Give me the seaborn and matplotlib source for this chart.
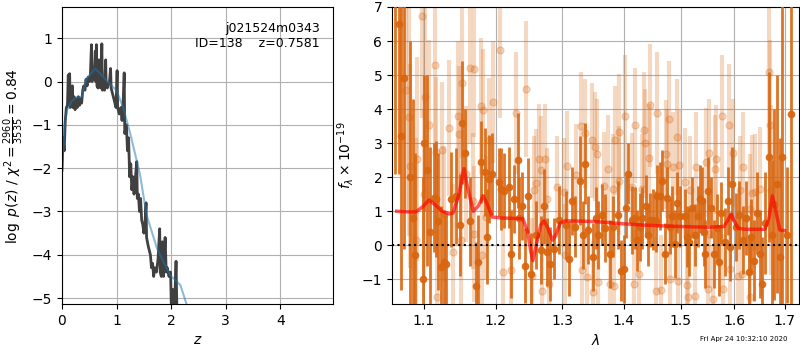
import matplotlib
matplotlib.use('Agg')
import matplotlib.pyplot as plt
from matplotlib.ticker import FixedLocator, FormatStrFormatter, NullLocator
import seaborn as sns

# p(z) panel
pz_z = [0.00, 0.02, 0.04, 0.06, 0.08, 0.10, 0.115, 0.125, 0.14, 0.15, 0.17, 0.19, 0.20,
        0.22, 0.24, 0.26, 0.28, 0.30, 0.32, 0.34, 0.36, 0.38, 0.40, 0.42, 0.44, 0.46,
        0.48, 0.50, 0.52, 0.54, 0.55, 0.57, 0.59, 0.61, 0.62, 0.63, 0.64, 0.66, 0.68,
        0.69, 0.71, 0.73, 0.74, 0.76, 0.78, 0.80, 0.81, 0.83, 0.85, 0.87, 0.89, 0.90,
        0.93, 0.96, 0.99, 1.01, 1.02, 1.05, 1.08, 1.10, 1.12, 1.14, 1.15, 1.18, 1.20,
        1.22, 1.24, 1.26, 1.28, 1.30, 1.32, 1.34, 1.37, 1.38, 1.40, 1.42, 1.44, 1.46,
        1.48, 1.50, 1.52, 1.54, 1.55, 1.58, 1.60, 1.62, 1.64, 1.66, 1.68, 1.70, 1.73,
        1.76, 1.79, 1.80, 1.82, 1.84, 1.86, 1.89, 1.91, 1.93, 1.96, 1.99, 2.01, 2.03,
        2.06, 2.09, 2.11, 2.15]
pz_logp = [-2.05, -1.3, -1.6, -0.9, -0.6, -0.55, 0.15, -0.5, 0.18, -0.6, -0.45, -0.1, -0.6,
           -0.35, -0.65, -0.4, -0.6, -0.35, -0.55, -0.4, -0.5, -0.2, -0.1, -0.2, 0.05, -0.1,
           0.1, 0.0, 0.15, 0.85, 0.0, 0.15, 0.1, 0.7, 0.0, 0.85, -0.1, -0.15, 0.5,
           -0.1, -0.15, 0.87, -0.2, -0.1, -0.2, 0.5, -0.1, -0.15, -0.05, 0.0, 0.3, -0.15,
           -0.3, -0.45, -0.6, 0.25, -0.6, -0.75, -0.6, -0.9, -0.5, 0.2, -1.2, -1.0, -1.6,
           -1.3, -2.2, -1.9, -2.5, -2.2, -2.6, -2.3, -1.85, -2.7, -2.6, -3.0, -2.7, -3.2,
           -3.3, -3.5, -3.3, -2.8, -3.6, -3.8, -3.9, -4.0, -4.3, -4.2, -4.5, -4.3, -4.4,
           -4.1, -3.4, -4.4, -4.5, -3.7, -4.5, -3.6, -4.4, -4.3, -4.5, -4.4, -5.6, -4.8,
           -5.3, -4.15, -5.6, -5.8]
smooth_z = [0.0, 0.05, 0.09, 0.18, 0.27, 0.36, 0.45, 0.61, 0.82, 1.0, 1.12, 1.25,
            1.43, 1.55, 1.74, 1.98, 2.17, 2.29]
smooth_logp = [-2.0, -1.0, -0.67, -0.45, -0.36, -0.36, 0.07, 0.3, 0.02, -0.21, -0.6,
               -1.2, -2.15, -3.08, -3.85, -4.47, -4.7, -5.17]

# spectrum panel: binned flux (dark) and unbinned flux (light)
dark_wave = [1.063, 1.068, 1.071, 1.074, 1.082, 1.086, 1.089, 1.099, 1.101, 1.104, 1.109,
             1.114, 1.117, 1.120, 1.123, 1.127, 1.130, 1.137, 1.144, 1.149, 1.152, 1.157,
             1.164, 1.172, 1.174, 1.179, 1.184, 1.188, 1.191, 1.195, 1.205, 1.207, 1.212,
             1.219, 1.222, 1.227, 1.232, 1.234, 1.239, 1.243, 1.248, 1.252, 1.259, 1.267,
             1.272, 1.277, 1.281, 1.287, 1.295, 1.306, 1.311, 1.315, 1.321, 1.328, 1.333,
             1.336, 1.341, 1.349, 1.355, 1.358, 1.364, 1.369, 1.378, 1.383, 1.390, 1.396,
             1.400, 1.404, 1.408, 1.414, 1.419, 1.423, 1.428, 1.432, 1.438, 1.442, 1.446,
             1.450, 1.455, 1.457, 1.462, 1.466, 1.472, 1.475, 1.480, 1.484, 1.490, 1.493,
             1.498, 1.507, 1.511, 1.515, 1.520, 1.526, 1.532, 1.535, 1.539, 1.542, 1.545,
             1.550, 1.555, 1.561, 1.566, 1.571, 1.575, 1.582, 1.587, 1.592, 1.596, 1.603,
             1.609, 1.616, 1.622, 1.629, 1.633, 1.638, 1.644, 1.650, 1.655, 1.661, 1.668,
             1.674, 1.679, 1.685, 1.690, 1.695, 1.705, 1.712]
dark_flux = [7.5, 6.5, 3.2, 4.9, 2.0, 0.8, -0.3, -1.0, 3.0, 2.2, 0.4,
             1.4, 1.35, 0.7, -0.65, -0.5, -0.55, 1.35, 1.45, 0.6, 3.6, 2.7,
             0.7, -1.2, -0.5, 2.45, 2.15, 0.25, 1.95, 2.1, 1.85, 1.65, 1.6,
             1.7, -0.25, 1.35, 2.5, 0.8, 1.15, -0.6, 1.45, -0.85, 0.3, -0.15,
             1.15, -0.2, -0.55, -0.1, 0.75, 0.6, -0.4, 1.3, 0.55, 1.9, 0.3,
             2.4, 0.45, -0.35, 0.8, 0.3, 0.9, 0.5, -0.25, 0.55, 0.9, -0.75,
             -0.7, 1.1, 2.1, 0.75, 0.8, 0.15, 0.55, 0.8, 1.15, 0.3, 0.75,
             0.75, 0.7, 1.45, 1.45, 1.9, -0.25, 1.4, 0.55, 0.85, 0.05, 1.25,
             0.85, 0.85, 0.25, 0.1, 1.1, 0.3, 0.85, 1.35, 1.3, 0.4, -0.25,
             1.6, 1.1, -0.25, 0.5, -0.5, 0.95, 0.1, 1.3, -0.05, 1.8, 0.55,
             0.9, 0.15, 0.8, -0.8, 0.25, -0.45, 0.95, -0.25, -1.15, 0.65, 2.6,
             0.3, 1.2, 1.8, -0.35, 2.6, 0.3, 3.85]
dark_err = [5.4, 4.4, 4.5, 5.0, 4.0, 3.5, 3.0, 3.0, 2.0, 2.8, 2.5,
            1.6, 1.7, 2.0, 1.8, 1.5, 1.5, 1.4, 1.4, 1.5, 1.8, 1.3,
            1.3, 1.3, 1.4, 1.2, 1.3, 1.4, 1.3, 1.2, 1.0, 1.2, 1.1,
            1.2, 1.3, 1.0, 1.4, 1.2, 1.0, 1.1, 1.1, 1.2, 1.0, 1.0,
            1.1, 1.0, 1.1, 0.9, 1.0, 1.0, 1.1, 1.0, 0.9, 1.3, 1.0,
            1.2, 1.0, 1.0, 0.9, 1.0, 0.9, 1.0, 1.0, 0.9, 1.0, 0.9,
            1.0, 0.9, 0.9, 1.0, 0.9, 0.9, 1.0, 0.9, 0.9, 0.9, 0.8,
            0.9, 0.9, 0.9, 1.0, 0.9, 0.9, 0.9, 0.8, 0.9, 1.0, 0.9,
            0.9, 0.8, 0.9, 1.0, 0.9, 0.9, 0.9, 1.0, 1.0, 1.0, 1.0,
            1.0, 0.9, 1.0, 1.0, 1.0, 0.9, 1.0, 1.0, 1.0, 1.1, 1.0,
            1.0, 1.0, 1.1, 1.1, 1.1, 1.2, 1.2, 1.3, 1.4, 1.5, 2.5,
            2.2, 2.8, 3.2, 3.5, 4.5, 2.0, 6.0]

light_wave = [1.0776, 1.0812, 1.0822, 1.0895, 1.0916, 1.0982, 1.1008, 1.1021, 1.1072,
              1.1153, 1.1167, 1.118, 1.1245, 1.1277, 1.1346, 1.1395, 1.1463, 1.1477,
              1.151, 1.1523, 1.158, 1.1627, 1.167, 1.169, 1.1697, 1.179, 1.180, 1.1823,
              1.186, 1.191, 1.1955, 1.2066, 1.2106, 1.2219, 1.2293, 1.2446, 1.2542,
              1.2567, 1.2592, 1.2643, 1.268, 1.2694, 1.2736, 1.2772, 1.279, 1.2926,
              1.303, 1.305, 1.3071, 1.3214, 1.3293, 1.332, 1.3362, 1.340, 1.348, 1.349,
              1.3518, 1.3562, 1.358, 1.3667, 1.3738, 1.3777, 1.3815, 1.3832, 1.3848,
              1.3916, 1.3927, 1.4029, 1.414, 1.4169, 1.4197, 1.4254, 1.4312, 1.4341,
              1.4358, 1.444, 1.4458, 1.4556, 1.4573, 1.465, 1.474, 1.475, 1.478, 1.4809,
              1.485, 1.4926, 1.4945, 1.496, 1.508, 1.5106, 1.5138, 1.5168, 1.5258,
              1.527, 1.5471, 1.549, 1.5513, 1.5527, 1.5594, 1.5639, 1.5658, 1.5765,
              1.5784, 1.5898, 1.5924, 1.5977, 1.6065, 1.6104, 1.6153, 1.6168, 1.630,
              1.6312, 1.6344, 1.641, 1.6496, 1.6676, 1.6696, 1.673]
light_flux = [4.55, 3.77, 2.34, 0.14, 2.54, 6.74, 1.51, 4.35, 3.52,
              5.31, 2.74, -1.53, 2.81, 0.92, 3.44, -0.2, 3.81, 3.26,
              0.14, 4.76, 2.1, 5.21, 1.31, 0.33, 5.17, 4.09, -0.3, 3.98,
              0.82, 3.1, 4.21, 5.73, -0.79, -0.74, 3.88, 4.58, -0.89,
              1.61, 1.82, 2.54, 2.21, -1.33, 2.54, 1.36, -1.14, 1.72,
              1.56, -0.3, 2.34, 2.05, 3.49, -0.74, 3.29, -0.94, 3.08, -1.38,
              2.9, 2.69, -1.09, 1.74, 2.24, -1.14, 1.66, -1.19, 3.08,
              1.9, 3.34, 3.79, 1.71, -1.14, 3.52, -0.84, 1.66, 3.4,
              3.0, 2.56, 4.11, -1.35, 3.89, -1.31, 2.67, 2.39, 3.7, -0.99,
              2.31, 3.18, -1.04, 2.37, 1.85, -1.16, -1.53, 1.61, -1.48,
              2.31, 2.44, -1.28, 0.33, 2.71, -1.58, 2.23, 2.52, 3.79,
              -1.28, 3.52, -0.7, 2.71, -0.89, 1.61, -0.84, 2.31, -1.53,
              1.07, 1.53, 1.56, 1.66, 5.09, 3.52, 1.63]
light_err = [3.5, 3.5, 3.0, 3.0, 3.0, 3.0, 2.5, 2.8, 2.5,
             2.5, 2.2, 2.0, 2.0, 2.0, 2.0, 2.0, 2.2, 2.0,
             2.0, 2.2, 2.0, 2.2, 2.0, 2.0, 2.0, 2.0, 1.8, 1.8,
             1.8, 1.8, 1.8, 2.0, 1.8, 1.8, 1.8, 2.0, 1.7,
             1.6, 1.6, 1.6, 1.6, 1.6, 1.6, 1.5, 1.6, 1.5,
             1.6, 1.5, 1.6, 1.5, 1.6, 1.6, 1.6, 1.5, 1.7, 1.5,
             1.6, 1.6, 1.5, 1.6, 1.6, 1.6, 1.6, 1.6, 1.6,
             1.6, 1.7, 1.8, 1.6, 1.6, 1.7, 1.5, 1.6, 1.7,
             1.6, 1.6, 1.8, 1.6, 1.8, 1.6, 1.6, 1.6, 1.7, 1.6,
             1.6, 1.7, 1.6, 1.6, 1.6, 1.6, 1.6, 1.6, 1.6,
             1.6, 1.6, 1.6, 1.6, 1.6, 1.6, 1.6, 1.6, 1.8,
             1.6, 1.8, 1.6, 1.6, 1.6, 1.6, 1.6, 1.6, 1.7,
             1.6, 1.7, 1.7, 1.8, 2.5, 2.5, 2.5]

model_wave = [1.065, 1.08, 1.09, 1.10, 1.107, 1.115, 1.125, 1.135, 1.14, 1.148, 1.155,
              1.16, 1.168, 1.175, 1.182, 1.188, 1.195, 1.21, 1.24, 1.247, 1.252, 1.255,
              1.26, 1.267, 1.272, 1.278, 1.285, 1.29, 1.297, 1.305, 1.35, 1.40, 1.45,
              1.50, 1.55, 1.58, 1.588, 1.594, 1.60, 1.607, 1.62, 1.66, 1.668, 1.675,
              1.682, 1.69, 1.70]
model_flux = [1.0, 0.98, 0.98, 1.15, 1.33, 1.2, 1.0, 0.92, 0.95, 1.5, 2.25,
              1.7, 1.0, 1.15, 1.45, 1.2, 0.83, 0.8, 0.78, 0.4, -0.2, -0.45,
              0.0, 0.6, 0.72, 0.5, 0.15, 0.3, 0.65, 0.72, 0.7, 0.63, 0.58,
              0.55, 0.53, 0.55, 0.75, 0.92, 0.7, 0.5, 0.47, 0.47, 0.8, 1.45,
              1.0, 0.45, 0.43]

wave_ticks = [1.1, 1.2, 1.3, 1.4, 1.5, 1.6, 1.7]
orange = '#d9660f'

fig = plt.figure(figsize=(8, 3.5), dpi=100)
ax1 = fig.add_axes([0.0775, 0.131, 0.339, 0.849])
ax2 = fig.add_axes([0.49, 0.131, 0.509, 0.849])

# left: redshift probability
sns.lineplot(x=pz_z, y=pz_logp, color='0.25', lw=2, sort=False, estimator=None, ax=ax1)
sns.lineplot(x=smooth_z, y=smooth_logp, color='tab:blue', alpha=0.5, lw=1.5,
             sort=False, estimator=None, ax=ax1)
ax1.set_xlim(0, 4.97)
ax1.set_ylim(-5.14, 1.72)
ax1.set_xticks([0, 1, 2, 3, 4])
ax1.set_yticks([-5, -4, -3, -2, -1, 0, 1])
ax1.grid(True)
ax1.set_xlabel('$z$')
ax1.set_ylabel(r'$\log\ p(z)$ / $\chi^2=\frac{2960}{3535}=0.84$')
ax1.text(0.95, 0.95, 'j021524m0343\nID=138    z=0.7581', transform=ax1.transAxes,
         ha='right', va='top', fontsize=9)

# right: spectrum
ax2.errorbar(light_wave, light_flux, yerr=light_err, fmt='o', color=orange, alpha=0.25,
             ms=5, elinewidth=3, capsize=0, zorder=2)
ax2.errorbar(dark_wave, dark_flux, yerr=dark_err, fmt='o', color=orange, alpha=0.9,
             ms=4.5, elinewidth=2, capsize=0, zorder=3)
sns.lineplot(x=model_wave, y=model_flux, color='red', alpha=0.65, lw=2.5,
             sort=False, estimator=None, ax=ax2, zorder=4)
ax2.axhline(0, color='k', ls=':', lw=1.5, zorder=5)
ax2.set_xscale('log')
ax2.set_xlim(1.059, 1.730)
ax2.xaxis.set_major_locator(FixedLocator(wave_ticks))
ax2.xaxis.set_major_formatter(FormatStrFormatter('%.1f'))
ax2.xaxis.set_minor_locator(NullLocator())
ax2.set_ylim(-1.73, 7)
ax2.grid(True)
ax2.set_xlabel(r'$\lambda$')
ax2.set_ylabel(r'$f_\lambda \times 10^{-19}$')

fig.text(0.93, 0.03, 'Fri Apr 24 10:32:10 2020', fontsize=5, ha='center', va='center')

fig.savefig('out.png', dpi=100)
